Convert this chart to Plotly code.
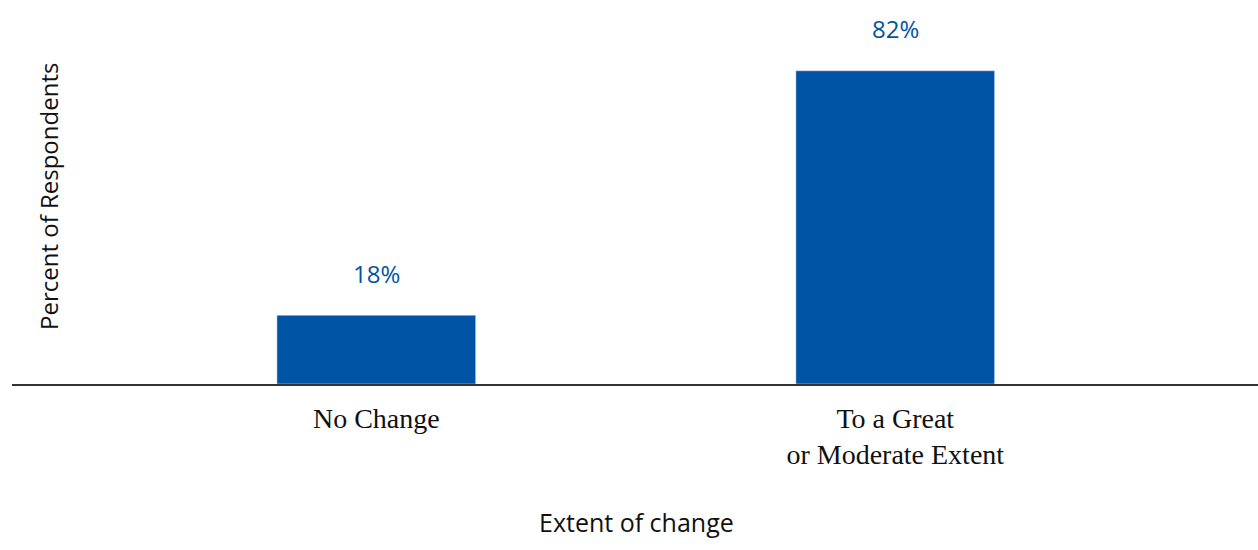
import plotly.graph_objects as go

categories = ["No Change", "To a Great<br>or Moderate Extent"]
values = [18, 82]
labels = ["18%", "82%"]

BLUE = "#0054A6"
W, H = 1258, 550
L, R, T, B = 12, 0, 2, 166
PW, PH = W - L - R, H - T - B

fig = go.Figure()
fig.add_trace(go.Bar(
    x=categories, y=values, marker_color=BLUE, width=0.383,
    hoverinfo="skip",
))

for c, v, t in zip(categories, values, labels):
    fig.add_annotation(x=c, y=v, text=t, showarrow=False, yshift=42,
                       xanchor="center", yanchor="middle",
                       font=dict(family="Open Sans", size=24, color=BLUE))

fig.add_annotation(xref="paper", yref="paper", x=(48 - L) / PW, y=(384 - 197) / PH,
                   xanchor="center", yanchor="middle",
                   text="Percent of Respondents", textangle=-90, showarrow=False,
                   font=dict(family="Open Sans", size=24, color="#111"))
fig.add_annotation(xref="paper", yref="paper", x=(636 - L) / PW, y=-(522 - 384) / PH,
                   xanchor="center", yanchor="middle",
                   text="Extent of change", showarrow=False,
                   font=dict(family="Open Sans", size=25, color="#111"))

fig.update_layout(
    width=W, height=H, margin=dict(l=L, r=R, t=T, b=B),
    paper_bgcolor="white", plot_bgcolor="white", showlegend=False,
    xaxis=dict(range=[-0.702, 1.699], showline=True, linecolor="#333", linewidth=2,
               ticks="", ticklabelstandoff=8, showgrid=False, zeroline=False,
               tickfont=dict(family="Liberation Serif", size=28, color="#111")),
    yaxis=dict(range=[0, 100], showticklabels=False, showgrid=False, zeroline=False, showline=False),
)
fig.write_html("out.html")
